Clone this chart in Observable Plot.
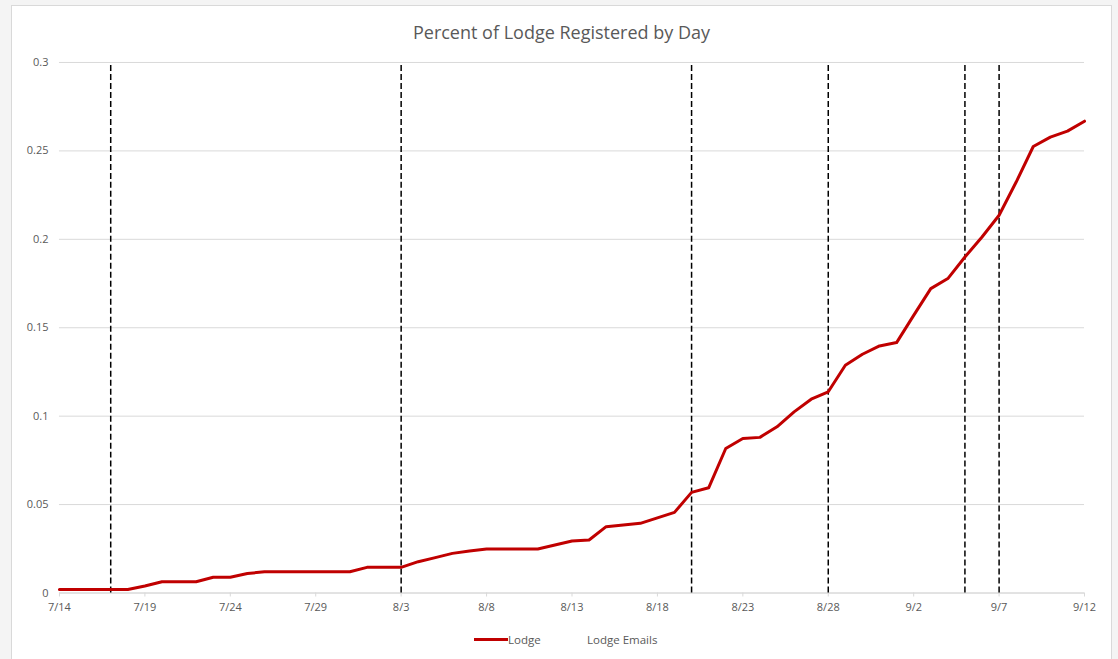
<!DOCTYPE html>
<html>
<head>
<meta charset="utf-8">
<script src="https://cdn.jsdelivr.net/npm/d3@7"></script>
<script src="https://cdn.jsdelivr.net/npm/@observablehq/plot@0.6"></script>
<style>
  html, body { margin: 0; padding: 0; background: #f4f4f4; font-family: "Open Sans", sans-serif; }
  #frame { position: absolute; left: 11px; top: 5px; width: 1101px; height: 660px; background: #fff; border: 1px solid #d9d9d9; box-sizing: border-box; }
  #title { position: absolute; top: 14px; left: 0; width: 100%; text-align: center; font-size: 18px; color: #595959; }
  #chart { position: absolute; left: 0; top: 39px; }
  #legend { position: absolute; top: 626px; left: 0; width: 100%; font-size: 11.5px; color: #595959; }
  .lg { position: absolute; display: flex; align-items: center; }
  .sw { width: 34px; height: 3px; background: #c00000; display: inline-block; }
</style>
</head>
<body>
<div id="frame">
  <div id="title">Percent of Lodge Registered by Day</div>
  <div id="chart"></div>
  <div id="legend">
    <div class="lg" style="left:462px"><span class="sw"></span><span>Lodge</span></div>
    <div class="lg" style="left:575px"><span>Lodge Emails</span></div>
  </div>
</div>
<script>
const days = ["7/14","7/15","7/16","7/17","7/18","7/19","7/20","7/21","7/22","7/23",
  "7/24","7/25","7/26","7/27","7/28","7/29","7/30","7/31","8/1","8/2",
  "8/3","8/4","8/5","8/6","8/7","8/8","8/9","8/10","8/11","8/12",
  "8/13","8/14","8/15","8/16","8/17","8/18","8/19","8/20","8/21","8/22",
  "8/23","8/24","8/25","8/26","8/27","8/28","8/29","8/30","8/31","9/1",
  "9/2","9/3","9/4","9/5","9/6","9/7","9/8","9/9","9/10","9/11","9/12"];
const lodge = [0.002,0.002,0.002,0.002,0.002,0.004,0.0064,0.0064,0.0064,0.0089,
  0.0089,0.011,0.012,0.012,0.012,0.012,0.012,0.012,0.0145,0.0145,
  0.0145,0.0177,0.020,0.0224,0.0237,0.0249,0.0249,0.0249,0.0249,0.0271,
  0.0294,0.030,0.0375,0.0384,0.0394,0.0425,0.0456,0.0569,0.0595,0.0817,
  0.0874,0.088,0.094,0.1024,0.1096,0.1138,0.1288,0.135,0.1397,0.1416,
  0.157,0.1721,0.1778,0.19,0.2013,0.2136,0.2324,0.2525,0.2578,0.2612,0.2668];
const emailDays = ["7/17","8/3","8/20","8/28","9/5","9/7"];
const xTickLabels = ["7/14","7/19","7/24","7/29","8/3","8/8","8/13","8/18","8/23","8/28","9/2","9/7","9/12"];
const yTicks = [0, 0.05, 0.1, 0.15, 0.2, 0.25, 0.3];

const parse = s => { const [m, d] = s.split("/").map(Number); return new Date(Date.UTC(2017, m - 1, d)); };
const fmt = d => `${d.getUTCMonth() + 1}/${d.getUTCDate()}`;
const data = days.map((s, i) => ({date: parse(s), value: lodge[i]}));
const emails = emailDays.map(parse);

const chart = Plot.plot({
  width: 1100,
  height: 578,
  marginTop: 17,
  marginBottom: 30,
  marginLeft: 47,
  marginRight: 27,
  style: {fontFamily: "Open Sans, sans-serif", fontSize: "11px", color: "#595959", background: "transparent"},
  x: {type: "utc", domain: [parse(days[0]), parse(days[days.length - 1])], label: null},
  y: {domain: [0, 0.3], label: null},
  marks: [
    Plot.gridY(yTicks, {stroke: "#d9d9d9", strokeOpacity: 1, strokeWidth: 1}),
    Plot.ruleY([0], {stroke: "#d9d9d9", strokeWidth: 1}),
    Plot.axisX({ticks: xTickLabels.map(parse), tickFormat: fmt, tickSize: 4, stroke: "#d9d9d9", fill: "#595959", tickPadding: 6}),
    Plot.axisY({ticks: yTicks, tickFormat: d => String(d), tickSize: 0, tickPadding: 11, fill: "#595959"}),
    Plot.ruleX(emails, {y1: 0, y2: 0.3, stroke: "#000", strokeWidth: 1.5, strokeDasharray: "6,3"}),
    Plot.line(data, {x: "date", y: "value", stroke: "#c00000", strokeWidth: 3, strokeLinejoin: "round"})
  ]
});
document.getElementById("chart").appendChild(chart);
</script>
</body>
</html>
